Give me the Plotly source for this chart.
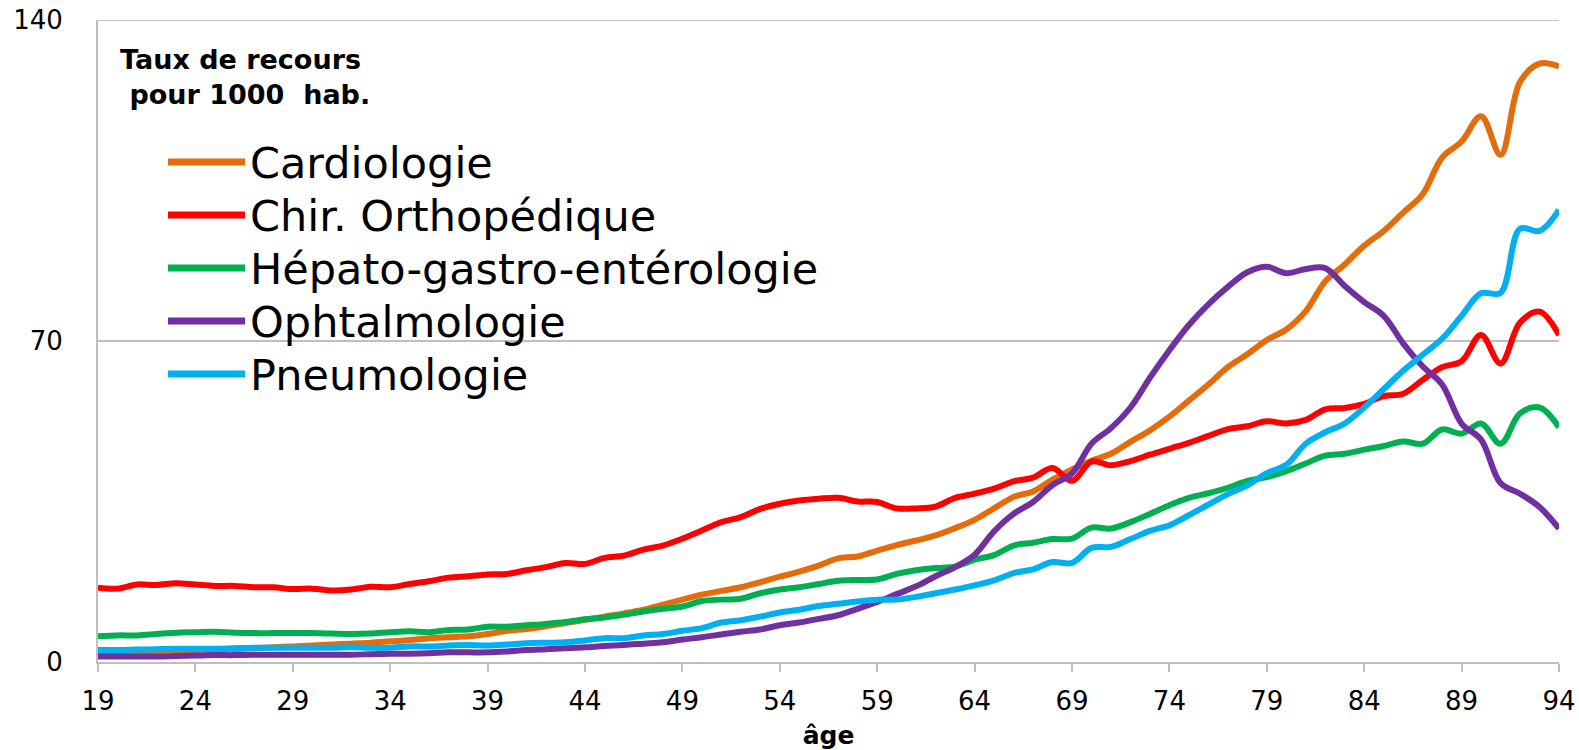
import plotly.graph_objects as go

ages = list(range(19, 95))

series_names = ["Cardiologie", "Chir. Orthopédique", "Hépato-gastro-entérologie",
                "Ophtalmologie", "Pneumologie"]
series_colors = ["#E46C0A", "#FF0000", "#00B050", "#7030A0", "#00B0F0"]

cardiologie = [2.2, 2.2, 2.3, 2.4, 2.5, 2.6, 2.7, 2.8, 3.0, 3.2,
               3.4, 3.6, 3.8, 4.0, 4.2, 4.5, 4.8, 5.2, 5.4, 5.6,
               6.1, 6.8, 7.2, 7.8, 8.5, 9.2, 9.9, 10.6, 11.4, 12.5,
               13.6, 14.7, 15.5, 16.3, 17.4, 18.6, 19.7, 21.0, 22.6, 23.0,
               24.3, 25.5, 26.5, 27.6, 29.2, 31.0, 33.5, 36.0, 37.2, 39.8,
               42.0, 43.9, 45.4, 48.0, 50.5, 53.5, 57.0, 60.5, 64.3, 67.1,
               70.2, 72.5, 76.5, 83.0, 86.7, 90.8, 94.0, 98.0, 102.0, 110.0,
               113.5, 119.0, 110.6, 126.5, 130.5, 129.9]

chir_ortho = [16.2, 16.0, 16.9, 16.8, 17.2, 16.9, 16.6, 16.6, 16.3, 16.3,
              15.9, 16.0, 15.6, 15.8, 16.4, 16.3, 17.0, 17.6, 18.4, 18.7,
              19.1, 19.2, 20.0, 20.7, 21.6, 21.4, 22.7, 23.2, 24.5, 25.4,
              26.9, 28.7, 30.5, 31.6, 33.4, 34.5, 35.2, 35.6, 35.8, 35.0,
              34.9, 33.5, 33.5, 33.9, 35.8, 36.7, 37.8, 39.4, 40.2, 42.3,
              39.5, 43.7, 42.9, 43.8, 45.2, 46.5, 47.8, 49.3, 50.8, 51.4,
              52.5, 52.0, 52.8, 55.1, 55.4, 56.3, 58.0, 58.5, 61.5, 64.3,
              65.6, 71.3, 65.1, 74.0, 76.4, 71.3]

hepato = [5.6, 5.8, 5.8, 6.1, 6.4, 6.5, 6.6, 6.4, 6.3, 6.3,
          6.3, 6.3, 6.2, 6.1, 6.2, 6.5, 6.7, 6.5, 7.0, 7.1,
          7.7, 7.7, 8.0, 8.3, 8.7, 9.3, 9.7, 10.3, 11.0, 11.6,
          12.1, 13.3, 13.6, 13.8, 15.0, 15.8, 16.3, 17.0, 17.7, 17.9,
          18.0, 19.2, 20.0, 20.5, 20.8, 22.3, 23.3, 25.4, 26.0, 26.8,
          26.9, 29.3, 29.1, 30.5, 32.3, 34.2, 35.8, 36.8, 38.0, 39.5,
          40.3, 41.6, 43.3, 45.0, 45.4, 46.3, 47.1, 48.1, 47.6, 50.7,
          49.8, 52.0, 47.6, 54.2, 55.5, 51.2]

ophtalmo = [1.2, 1.2, 1.2, 1.2, 1.3, 1.4, 1.5, 1.5, 1.6, 1.6,
            1.6, 1.6, 1.6, 1.6, 1.7, 1.8, 1.8, 1.9, 2.1, 2.1,
            2.1, 2.3, 2.6, 2.8, 3.0, 3.2, 3.5, 3.7, 4.0, 4.3,
            4.9, 5.4, 6.0, 6.6, 7.1, 8.0, 8.6, 9.4, 10.2, 11.6,
            13.1, 14.8, 16.5, 18.7, 20.7, 23.4, 28.5, 32.3, 34.9, 38.6,
            41.1, 47.6, 51.0, 55.5, 62.0, 68.0, 73.5, 78.0, 81.8, 85.0,
            86.2, 84.8, 85.7, 85.9, 82.0, 78.5, 75.5, 69.5, 64.5, 60.5,
            52.0, 48.5, 39.0, 36.7, 33.8, 29.1]

pneumo = [2.6, 2.6, 2.7, 2.8, 2.9, 2.9, 2.9, 3.0, 3.1, 3.1,
          3.1, 3.1, 3.1, 3.2, 3.1, 3.1, 3.4, 3.4, 3.6, 3.7,
          3.6, 3.8, 4.1, 4.2, 4.3, 4.7, 5.2, 5.2, 5.8, 6.1,
          6.8, 7.4, 8.6, 9.1, 9.9, 10.8, 11.4, 12.2, 12.7, 13.2,
          13.6, 13.6, 14.2, 15.0, 15.8, 16.7, 17.8, 19.4, 20.2, 21.8,
          21.6, 24.9, 25.1, 26.8, 28.6, 29.8, 32.0, 34.3, 36.6, 38.5,
          41.2, 43.0, 47.6, 50.1, 52.0, 55.5, 59.5, 63.5, 67.0, 70.5,
          75.5, 80.4, 80.5, 94.5, 94.0, 98.6]

series_values = [cardiologie, chir_ortho, hepato, ophtalmo, pneumo]

x_ticks = list(range(19, 95, 5))
y_ticks = [0, 70, 140]
y_title_text = "Taux de recours<br>\u00a0pour 1000\u00a0\u00a0hab."
x_title_text = "âge"

FONT = "DejaVu Sans, Liberation Sans, Arial, sans-serif"
GRID = "#BFBFBF"

W, H = 1579, 750
L, R, T, B = 98, 20, 20, 88

def px_x(p):
    return (p - L) / (W - L - R)

def px_y(p):
    return (H - B - p) / (H - B - T)

fig = go.Figure()
for name, vals, col in zip(series_names, series_values, series_colors):
    fig.add_trace(go.Scatter(
        x=ages, y=vals, name=name, mode="lines",
        line=dict(color=col, width=6, shape="spline", smoothing=1.0),
        showlegend=False,
    ))

shapes = [dict(type="line", xref="paper", yref="y", x0=0, x1=1, y0=140, y1=140,
               line=dict(color=GRID, width=2), layer="below")]
annotations = []
for i, (name, col) in enumerate(zip(series_names, series_colors)):
    yy = 162 + 53 * i
    shapes.append(dict(type="line", xref="paper", yref="paper",
                       x0=px_x(168), x1=px_x(245), y0=px_y(yy), y1=px_y(yy),
                       line=dict(color=col, width=7), layer="above"))
    annotations.append(dict(xref="paper", yref="paper", x=px_x(248), y=px_y(yy + 1),
                            xanchor="left", yanchor="middle", showarrow=False,
                            text=name, font=dict(family=FONT, size=43, color="#000000")))

annotations.append(dict(xref="paper", yref="paper", x=px_x(118), y=px_y(42),
                        xanchor="left", yanchor="top", align="left", showarrow=False,
                        text="<b>" + y_title_text + "</b>",
                        font=dict(family=FONT, size=27, color="#000000")))

fig.update_layout(
    width=W, height=H,
    margin=dict(l=L, r=R, t=T, b=B, autoexpand=False),
    paper_bgcolor="white", plot_bgcolor="white",
    shapes=shapes, annotations=annotations,
    font=dict(family=FONT, color="#000000"),
)
fig.update_xaxes(
    range=[19, 94], tickmode="array", tickvals=x_ticks,
    ticks="outside", ticklen=8, tickwidth=2, tickcolor=GRID,
    showline=True, linecolor=GRID, linewidth=2, showgrid=False, zeroline=False,
    tickfont=dict(family=FONT, size=26, color="#000000"),
    ticklabelstandoff=7, automargin=False,
    title=dict(text="<b>" + x_title_text + "</b>", standoff=12,
               font=dict(family=FONT, size=25, color="#000000")),
)
fig.update_yaxes(
    range=[0, 140], tickmode="array", tickvals=y_ticks,
    ticks="", showline=True, linecolor=GRID, linewidth=2,
    showgrid=True, gridcolor=GRID, gridwidth=2, zeroline=False,
    tickfont=dict(family=FONT, size=26, color="#000000"),
    ticklabelstandoff=28, automargin=False,
)

fig.write_html("out.html",
               config={"displayModeBar": False},
               post_script="document.body.style.margin='0';document.body.style.overflow='hidden';")
